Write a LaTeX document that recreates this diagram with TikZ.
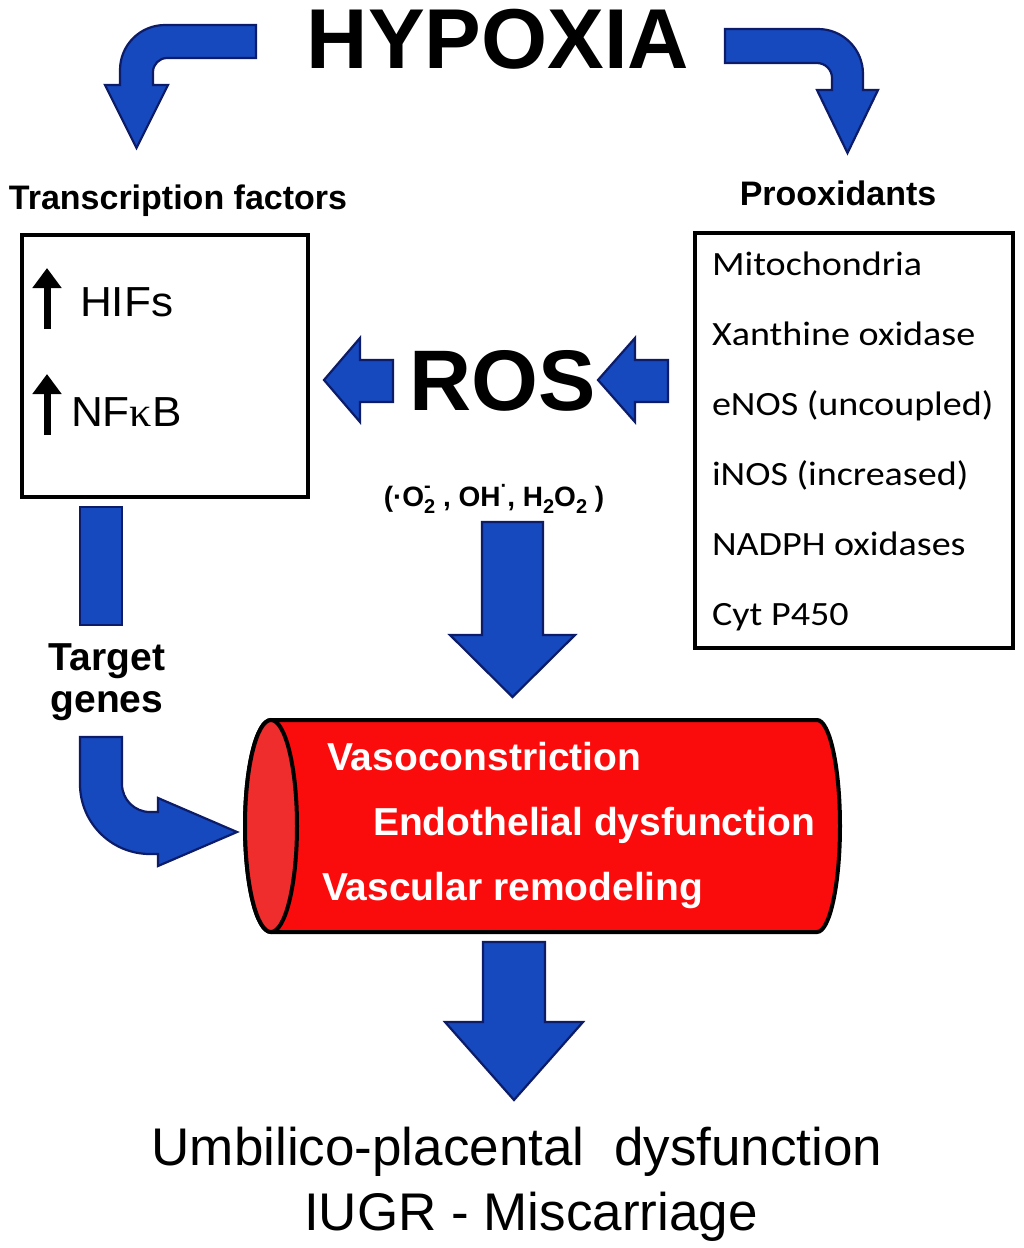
\documentclass[tikz,border=0pt]{standalone}
\usepackage{fontspec}
\usepackage{graphicx}
\setmainfont{Liberation Sans}
\newfontfamily\listfont{Carlito}
\newfontfamily\kappafont{Liberation Serif}
\usetikzlibrary{arrows.meta}
\definecolor{arrowblue}{RGB}{22,72,190}
\definecolor{arrownavy}{RGB}{12,28,105}
\definecolor{cylred}{RGB}{250,12,12}
\definecolor{endred}{RGB}{240,45,45}
\newcommand\setfs[1]{\fontsize{#1}{#1}\selectfont}
\newcommand\sbs[1]{\raisebox{-0.28em}{\setfs{20}#1}}
\newcommand\sps[1]{\raisebox{0.5em}{\setfs{20}#1}}
\tikzset{
  blockarrow/.style={fill=arrowblue, draw=arrownavy, line width=2.2pt, line join=miter},
  framebox/.style={draw=black, line width=4pt, fill=white, inner sep=0pt},
  txt/.style={inner sep=0pt, outer sep=0pt},
  listitem/.style={txt, anchor=base west, font=\listfont\setfs{34}},
  cyltext/.style={txt, anchor=base west, text=white, font=\bfseries\setfs{39}},
  cyl/.style={fill=cylred, draw=black, line width=4pt},
  cylend/.style={fill=endred, draw=black, line width=4pt},
  uparrow/.style={line width=7pt, -{Triangle[width=28pt,length=20pt]}}
}
\begin{document}
\begin{tikzpicture}[x=1pt,y=-1pt]
\useasboundingbox (0,0) rectangle (1024,1248);
\fill[white] (0,0) rectangle (1024,1248);

% title
\node[txt, anchor=base] (hyp) at (498,68) {\bfseries\setfs{85}HYPOXIA};

% curved arrows from HYPOXIA
\draw[blockarrow] (256,25) -- (165,25) .. controls (140.1,25) and (120,45.1) .. (120,70)
  -- (120,85) -- (105,85) -- (136.5,148) -- (168,85) -- (153,85) -- (153,72)
  .. controls (153,64.3) and (159.3,58) .. (167,58) -- (256,58) -- cycle;
\draw[blockarrow] (725,29) -- (818,29) .. controls (842.9,29) and (863,49.1) .. (863,74)
  -- (863,90) -- (878,90) -- (847.5,153) -- (817,90) -- (832,90) -- (832,78)
  .. controls (832,69.7) and (825.3,63) .. (817,63) -- (725,63) -- cycle;

% headings
\node[txt, anchor=base] (tf) at (178,209) {\bfseries\setfs{34}Transcription factors};
\node[txt, anchor=base] (pro) at (838,205) {\bfseries\setfs{34}Prooxidants};

% left box
\node[framebox, minimum width=286pt, minimum height=262pt] (tfbox) at (165,366) {};
\coordinate (a1s) at (47,329);
\coordinate (a1e) at (47,268);
\coordinate (a2s) at (47,435);
\coordinate (a2e) at (47,374);
\draw[uparrow] (a1s) -- (a1e);
\draw[uparrow] (a2s) -- (a2e);
\node[txt, anchor=base west] (hif) at (80,316) {\scalebox{1.05}[1]{\setfs{42}HIFs}};
\node[txt, anchor=base west] (nfkb) at (71,426) {\scalebox{1.05}[1]{\setfs{42}NF{\kappafont κ}B}};

% right box
\node[framebox, minimum width=318pt, minimum height=415pt] (probox) at (854,440.5) {};
\node[listitem] (l1) at (712,275) {\scalebox{1.12}[1]{Mitochondria}};
\node[listitem] (l2) at (712,345) {\scalebox{1.12}[1]{Xanthine oxidase}};
\node[listitem] (l3) at (712,415) {\scalebox{1.12}[1]{eNOS (uncoupled)}};
\node[listitem] (l4) at (712,485) {\scalebox{1.12}[1]{iNOS (increased)}};
\node[listitem] (l5) at (712,555) {\scalebox{1.12}[1]{NADPH oxidases}};
\node[listitem] (l6) at (712,625) {\scalebox{1.12}[1]{Cyt P450}};

% ROS
\node[txt, anchor=base] (ros) at (503,410) {\bfseries\setfs{86}ROS};
\draw[blockarrow] (393,360) -- (360,360) -- (360,338) -- (324,380) -- (360,422) -- (360,402) -- (393,402) -- cycle;
\draw[blockarrow] (668,360) -- (635,360) -- (635,338) -- (598,380) -- (635,422) -- (635,402) -- (668,402) -- cycle;
\node[txt, anchor=base] (species) at (494,506) {\bfseries\setfs{28}(·O\rlap{\sps{-}}\sbs{2} , OH\sps{·}, H\sbs{2}O\sbs{2} )};

% down arrow from ROS
\draw[blockarrow] (482,522) -- (543,522) -- (543,635) -- (575,635) -- (512.5,697) -- (450,635) -- (482,635) -- cycle;

% target genes path
\draw[blockarrow] (80,507) rectangle (122,625);
\node[txt, anchor=base] (tg1) at (107,670) {\bfseries\setfs{39}Target};
\node[txt, anchor=base] (tg2) at (107,712) {\bfseries\setfs{39}genes};
\draw[blockarrow] (80,737) -- (122,737) -- (122,784) .. controls (122,799.5) and (134.5,812) .. (150,812)
  -- (158,812) -- (158,798) -- (237,832) -- (158,866) -- (158,854) -- (150,854)
  .. controls (111.3,854) and (80,822.7) .. (80,784) -- cycle;

% vessel cylinder
\draw[cyl] (271,720) -- (817,720) .. controls (829.7,720) and (840,767.5) .. (840,826)
  .. controls (840,884.5) and (829.7,932) .. (817,932) -- (271,932)
  .. controls (256.6,932) and (245,884.5) .. (245,826)
  .. controls (245,767.5) and (256.6,720) .. (271,720) -- cycle;
\draw[cylend] (271,826) ellipse [x radius=26, y radius=106];
\node[cyltext] (c1) at (327,770) {Vasoconstriction};
\node[cyltext] (c2) at (373,835) {Endothelial dysfunction};
\node[cyltext] (c3) at (322,900) {Vascular remodeling};

% bottom arrow and outcome
\draw[blockarrow] (483,942) -- (545,942) -- (545,1022) -- (583,1022) -- (514,1100) -- (445,1022) -- (483,1022) -- cycle;
\node[txt, anchor=base] (out1) at (517,1165) {\setfs{53}Umbilico-placental\ \ dysfunction};
\node[txt, anchor=base] (out2) at (531,1230) {\setfs{53}IUGR - Miscarriage};
\end{tikzpicture}
\end{document}
